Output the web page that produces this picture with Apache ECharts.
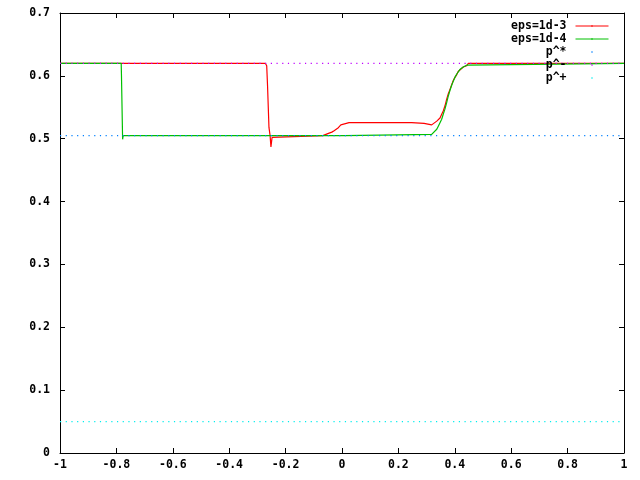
<!DOCTYPE html>
<html>
<head>
<meta charset="utf-8">
<script src="https://cdn.jsdelivr.net/npm/echarts@6/dist/echarts.min.js"></script>
<style>html,body{margin:0;padding:0;background:#fff}#c{width:640px;height:480px}</style>
</head>
<body>
<div id="c"></div>
<script>
// eps=1d-3 (red)
var redX = [-1, -0.272, -0.267, -0.264, -0.259, -0.255, -0.252, -0.248, -0.245,
  -0.068, -0.066, -0.048, -0.036, -0.028, -0.021, -0.013, -0.009, -0.004, 0.001, 0.025,
  0.247, 0.25, 0.291, 0.294, 0.318,
  0.324, 0.336, 0.3475, 0.3535, 0.359, 0.365, 0.371, 0.377, 0.383, 0.389, 0.395, 0.401, 0.407, 0.412, 0.418, 0.430, 0.442, 0.448, 1];
var redY = [0.62, 0.62, 0.616, 0.584, 0.518, 0.505, 0.487, 0.502, 0.505,
  0.505, 0.507, 0.5085, 0.5105, 0.5127, 0.515, 0.5175, 0.52, 0.522, 0.524, 0.5255,
  0.5255, 0.5245, 0.5245, 0.522, 0.522,
  0.524, 0.528, 0.533, 0.539, 0.544, 0.552, 0.5625, 0.5716, 0.5785, 0.586, 0.593, 0.598, 0.602, 0.607, 0.610, 0.614, 0.616, 0.62, 0.62];
// eps=1d-4 (green)
var greenX = [-1, -0.783, -0.782, -0.779, -0.778, -0.776,
  0.008, 0.009,
  0.318, 0.324, 0.336, 0.3415, 0.3475, 0.3535, 0.359, 0.365, 0.371, 0.377, 0.383, 0.389, 0.395, 0.401, 0.407, 0.418, 0.430, 0.442, 0.448, 1];
var greenY = [0.62, 0.62, 0.60, 0.60, 0.499, 0.505,
  0.505, 0.507,
  0.507, 0.5096, 0.515, 0.52, 0.5255, 0.531, 0.539, 0.547, 0.557, 0.568, 0.577, 0.585, 0.592, 0.598, 0.603, 0.610, 0.614, 0.617, 0.62, 0.62];
// reference levels
var refNames = ['p^*', 'p^-', 'p^+'];
var refLevels = [0.505, 0.62, 0.05];
var xRange = [-1, 1];
var yRange = [0, 0.7];

function pairs(xs, ys) { return xs.map(function (x, i) { return [x, ys[i]]; }); }

var FONT = 'DejaVu Sans Mono';
var lbl = { fontFamily: FONT, fontSize: 11.5, fontWeight: 'bold', color: '#000' };
var axisLine = { show: true, onZero: false, lineStyle: { color: '#000', width: 1 } };
var tick = { show: true, inside: true, length: 5, lineStyle: { color: '#000', width: 1 } };

var refColors = ['#0080ff', '#c000ff', '#00eeee'];
var dots = [1.2, 4.497];

var series = [
  { name: 'eps=1d-3', type: 'line', data: pairs(redX, redY), symbol: 'none', showSymbol: false,
    lineStyle: { color: '#ff0000', width: 1.2 }, itemStyle: { color: '#ff0000' } },
  { name: 'eps=1d-4', type: 'line', data: pairs(greenX, greenY), symbol: 'none', showSymbol: false,
    lineStyle: { color: '#00c000', width: 1.2 }, itemStyle: { color: '#00c000' } }
];
refNames.forEach(function (n, i) {
  series.push({ name: n, type: 'line', data: [[xRange[0], refLevels[i]], [xRange[1], refLevels[i]]],
    symbol: 'none', showSymbol: false,
    lineStyle: { color: refColors[i], width: 1.2, type: dots }, itemStyle: { color: refColors[i] } });
});

var legendData = [{ name: 'eps=1d-3' }, { name: 'eps=1d-4' }];
refNames.forEach(function (n) { legendData.push({ name: n, lineStyle: { opacity: 0 } }); });

var chart = echarts.init(document.getElementById('c'), null, { renderer: 'canvas' });
chart.setOption({
  animation: false,
  backgroundColor: '#fff',
  grid: { left: 60, right: 16, top: 13, bottom: 27 },
  legend: {
    orient: 'vertical', align: 'right', right: 31, top: 20, padding: 0, itemGap: 1,
    itemWidth: 33, itemHeight: 2, selectedMode: false,
    itemStyle: { borderWidth: 0 },
    lineStyle: { width: 1 },
    textStyle: { fontFamily: FONT, fontSize: 11.5, fontWeight: 'bold', color: '#000', padding: [0, 4, 0, 0] },
    data: legendData
  },
  xAxis: [
    { type: 'value', position: 'bottom', min: xRange[0], max: xRange[1], interval: 0.2,
      axisLine: axisLine, axisTick: tick, splitLine: { show: false },
      axisLabel: Object.assign({ margin: 6 }, lbl) },
    { type: 'value', position: 'top', min: xRange[0], max: xRange[1], interval: 0.2,
      axisLine: axisLine, axisTick: tick, splitLine: { show: false }, axisLabel: { show: false } }
  ],
  yAxis: [
    { type: 'value', position: 'left', min: yRange[0], max: yRange[1], interval: 0.1,
      axisLine: axisLine, axisTick: tick, splitLine: { show: false },
      axisLabel: Object.assign({ margin: 10 }, lbl) },
    { type: 'value', position: 'right', min: yRange[0], max: yRange[1], interval: 0.1,
      axisLine: axisLine, axisTick: tick, splitLine: { show: false }, axisLabel: { show: false } }
  ],
  series: series
});
</script>
</body>
</html>
